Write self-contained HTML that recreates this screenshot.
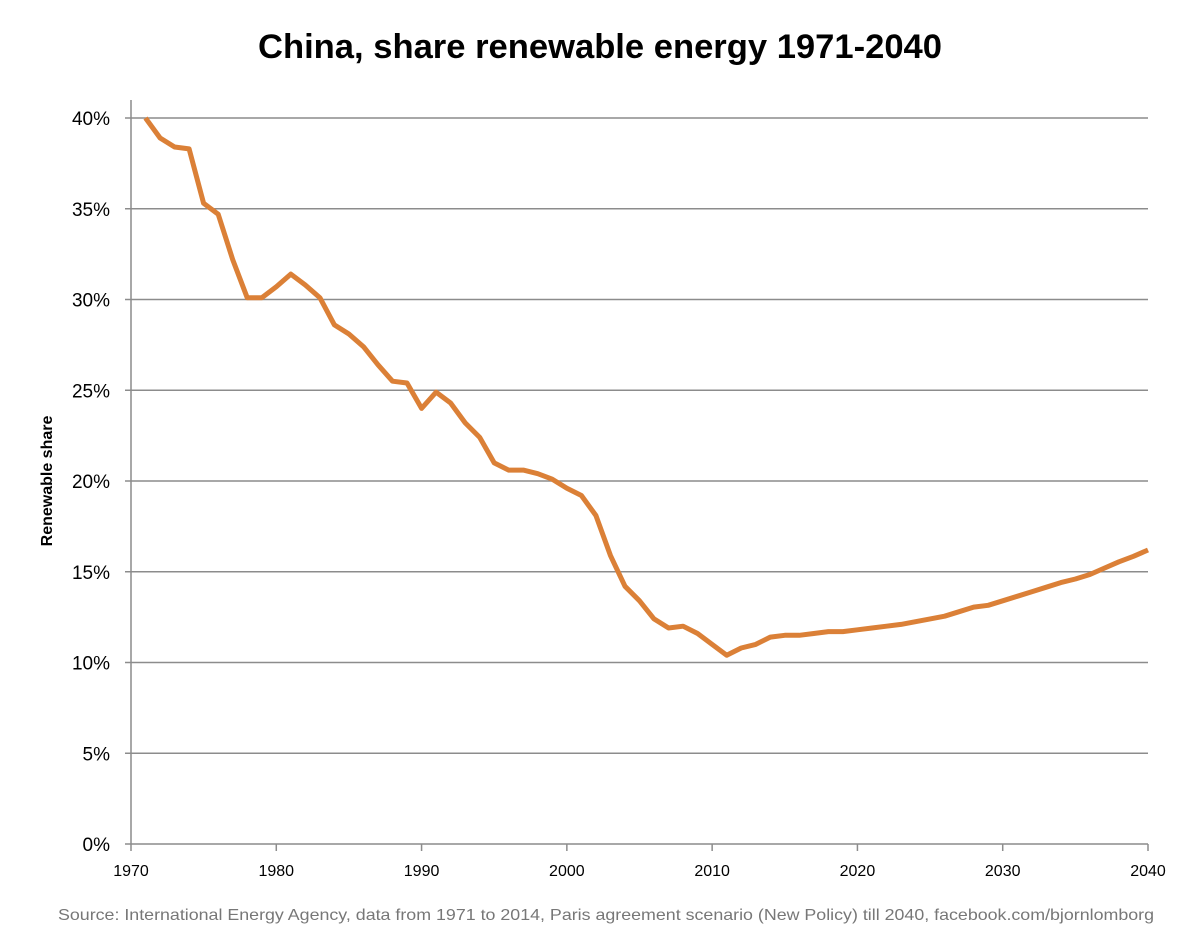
<!DOCTYPE html>
<html><head><meta charset="utf-8"><style>
body{margin:0;background:#fff;width:1200px;height:939px;overflow:hidden}
svg{display:block}
text{font-family:"Liberation Sans",sans-serif}
</style></head><body>
<svg id="chart" width="1200" height="939">
<text x="600" y="58" text-anchor="middle" font-size="34" font-weight="bold" fill="#000" textLength="684" lengthAdjust="spacingAndGlyphs">China, share renewable energy 1971-2040</text>
<text transform="translate(52,481) rotate(-90)" text-anchor="middle" font-size="16" font-weight="bold">Renewable share</text>
<text x="58" y="920" font-size="16" fill="#777" textLength="1096" lengthAdjust="spacingAndGlyphs">Source: International Energy Agency, data from 1971 to 2014, Paris agreement scenario (New Policy) till 2040, facebook.com/bjornlomborg</text>
<g id="grid"></g><g id="axes"></g><g id="series"></g>
</svg>
<script>
const years=[];for(let y=1971;y<=2040;y++)years.push(y);
const shares=[40,38.9,38.4,38.3,35.3,34.7,32.2,30.1,30.1,30.7,31.4,30.8,30.1,28.6,28.1,27.4,26.4,25.5,25.4,24.0,24.9,24.3,23.2,22.4,21.0,20.6,20.6,20.4,20.1,19.6,19.2,18.1,15.9,14.2,13.4,12.4,11.9,12.0,11.6,11.0,10.4,10.8,11.0,11.4,11.5,11.5,11.6,11.7,11.7,11.8,11.9,12.0,12.1,12.25,12.4,12.55,12.8,13.05,13.15,13.4,13.65,13.9,14.15,14.4,14.6,14.85,15.2,15.55,15.85,16.2];
const yTicks=[0,5,10,15,20,25,30,35,40];
const xTicks=[1970,1980,1990,2000,2010,2020,2030,2040];
const X=v=>131+(v-1970)*(1148-131)/70;
const Y=v=>844-v*(844-118)/40;
const NS="http://www.w3.org/2000/svg";
function mk(t,a,p){const e=document.createElementNS(NS,t);for(const k in a)e.setAttribute(k,a[k]);p.appendChild(e);return e;}
const grid=document.getElementById('grid'),axes=document.getElementById('axes'),series=document.getElementById('series');
yTicks.forEach(v=>{
 if(v>0){const l=mk('line',{x1:131,x2:1148,y1:Y(v),y2:Y(v),stroke:'#8c8c8c','stroke-width':1.5},grid);
 
 }
 mk('line',{x1:125,x2:131,y1:Y(v),y2:Y(v),stroke:'#8c8c8c','stroke-width':1.5},axes);
 const t=mk('text',{x:110,y:Y(v)+7,'text-anchor':'end','font-size':19},axes);t.textContent=v+'%';
 
 
});
mk('line',{x1:131,x2:131,y1:100,y2:844,stroke:'#8c8c8c','stroke-width':1.5},axes);
mk('line',{x1:131,x2:1148,y1:844,y2:844,stroke:'#8c8c8c','stroke-width':1.5},axes);
xTicks.forEach(v=>{
 mk('line',{x1:X(v),x2:X(v),y1:844,y2:851,stroke:'#8c8c8c','stroke-width':1.5},axes);
 const t=mk('text',{x:X(v),y:876,'text-anchor':'middle','font-size':16},axes);t.textContent=v;
 
 
});
const d=years.map((y,i)=>(i?'L':'M')+X(y).toFixed(1)+','+Y(shares[i]).toFixed(1)).join('');
const p=mk('path',{d:d,fill:'none',stroke:'#db8037','stroke-width':5,'stroke-linejoin':'round'},series);


</script>
</body></html>
